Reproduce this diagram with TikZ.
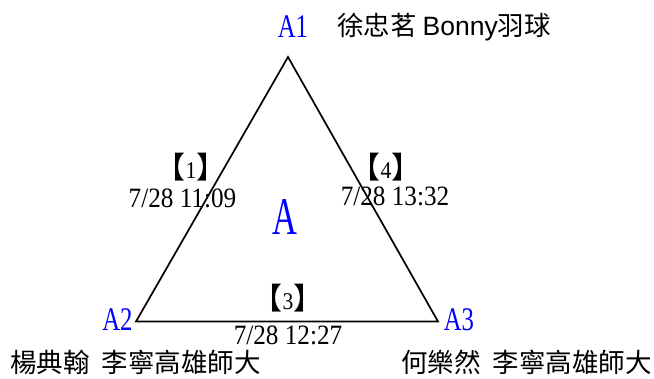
\documentclass[tikz,border=0pt]{standalone}
\usepackage{fontspec}
\setmainfont{Liberation Serif}
\newfontfamily\cjk{Noto Sans CJK TC}
\newfontfamily\arialf{Liberation Sans}
\newfontfamily\lblf{Liberation Serif}[FakeStretch=0.75]
\newfontfamily\bigf{Liberation Serif}[FakeStretch=0.65]
\newfontfamily\dtf{Liberation Serif}[FakeStretch=0.9]
\definecolor{lblue}{RGB}{0,0,255}
\tikzset{
  vlabel/.style={inner sep=0pt, text=lblue, font=\lblf\fontsize{33}{33}\selectfont},
  biglabel/.style={inner sep=0pt, text=lblue, font=\bigf\fontsize{53}{53}\selectfont},
  datelabel/.style={inner sep=0pt, font=\dtf\fontsize{28}{28}\selectfont},
  brlabel/.style={inner sep=0pt, font=\fontsize{30}{30}\selectfont},
  namelabel/.style={inner sep=0pt, font=\cjk\fontsize{26.5}{26.5}\selectfont},
  edge/.style={draw=black, line width=1.7pt, line join=miter}
}
\newcommand{\brk}[1]{{\cjk【}{\dtf\fontsize{24}{24}\selectfont #1}{\cjk】}}
\newcommand{\wsp}{\hspace{0.45em}}
\begin{document}
\begin{tikzpicture}[x=1pt, y=-1pt]
\useasboundingbox (0,0) rectangle (654,378);
\coordinate (T) at (288,57);
\coordinate (L) at (136,321.5);
\coordinate (R) at (438,321.5);
\draw[edge] (T) -- (L) -- (R) -- cycle;
\node[vlabel] (a1) at (293,26.5) {A1};
\node[vlabel] (a2) at (117.5,319.5) {A2};
\node[vlabel] (a3) at (459,319.5) {A3};
\node[biglabel] (a) at (285,217.5) {A};
\node[brlabel] (b1) at (191,167) {\brk{1}};
\node[datelabel] (d1) at (182.5,198) {7/28 11:09};
\node[brlabel] (b4) at (386,167) {\brk{4}};
\node[datelabel] (d4) at (395,196) {7/28 13:32};
\node[brlabel] (b3) at (288,298) {\brk{3}};
\node[datelabel] (d3) at (288,335) {7/28 12:27};
\node[namelabel, anchor=west] (n1) at (337,27) {徐忠茗 {\arialf Bonny}羽球};
\node[namelabel, anchor=west] (n2) at (10,362) {楊典翰\wsp 李寧高雄師大};
\node[namelabel, anchor=east] (n3) at (652,362) {何樂然\wsp 李寧高雄師大};
\end{tikzpicture}
\end{document}
